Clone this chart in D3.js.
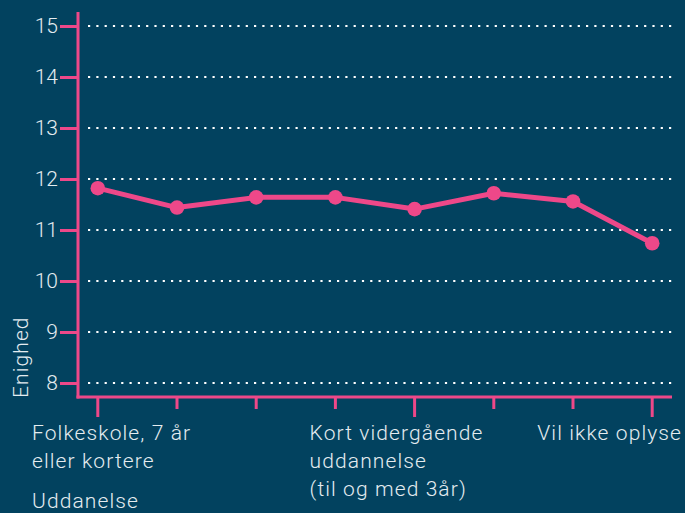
<!DOCTYPE html>
<html>
<head>
<meta charset="utf-8">
<script src="https://cdn.jsdelivr.net/npm/d3@7"></script>
<style>
  html, body { margin: 0; padding: 0; background: #02425F; }
  svg { display: block; }
  text { font-family: Roboto, "Noto Sans", sans-serif; fill: #E4ECF0; }
</style>
</head>
<body>
<script>
// ---- data ----
const categories = [
  "Folkeskole, 7 år eller kortere",
  "Folkeskole, 8-10 år",
  "Gymnasial uddannelse",
  "Erhvervsfaglig uddannelse",
  "Kort vidergående uddannelse (til og med 3år)",
  "Mellemlang videregående uddannelse",
  "Lang videregående uddannelse",
  "Vil ikke oplyse"
];
const values = [11.82, 11.44, 11.64, 11.64, 11.41, 11.72, 11.56, 10.74];
const yTicks = [8, 9, 10, 11, 12, 13, 14, 15];
// categories whose labels are shown (others are hidden), and their wrapped lines
const shownLabels = [
  { index: 0, lines: ["Folkeskole, 7 år", "eller kortere"] },
  { index: 4, lines: ["Kort vidergående", "uddannelse", "(til og med 3år)"] },
  { index: 7, lines: ["Vil ikke oplyse"] }
];
const yTitle = "Enighed";
const xTitle = "Uddanelse";

// ---- layout ----
const W = 685, H = 513;
const pink = "#EE4889";
const plot = { left: 78, right: 672, top: 12, bottom: 397 };
const FS = 21, LS = "1.1px";

const svg = d3.select("body").append("svg").attr("width", W).attr("height", H);
svg.append("rect").attr("width", W).attr("height", H).attr("fill", "#02425F");

const x = d3.scalePoint().domain(d3.range(categories.length))
  .range([plot.left, plot.right]).padding(0.25);
const y = d3.scaleLinear().domain([8, 15]).range([383, 26]);

// gridlines (dotted)
svg.append("g").selectAll("line").data(yTicks).join("line")
  .attr("x1", 88).attr("x2", plot.right)
  .attr("y1", d => y(d)).attr("y2", d => y(d))
  .attr("stroke", "#FFFFFF").attr("stroke-width", 2.2)
  .attr("stroke-dasharray", "2.2,6.1");

// y axis
const yAxis = svg.append("g").attr("transform", `translate(${plot.left},0)`)
  .call(d3.axisLeft(y).tickValues(yTicks).tickSize(18).tickPadding(2).tickFormat(d3.format("d")));
yAxis.select(".domain").remove();
yAxis.selectAll(".tick line").attr("stroke", pink).attr("stroke-width", 3);
yAxis.selectAll(".tick text").attr("font-size", FS).style("fill", "#E4ECF0")
  .attr("font-family", "Roboto, sans-serif").attr("font-weight", 300);
svg.append("line").attr("x1", plot.left).attr("x2", plot.left)
  .attr("y1", plot.top).attr("y2", plot.bottom + 1.5)
  .attr("stroke", pink).attr("stroke-width", 3);

// x axis
svg.append("line").attr("x1", plot.left - 1.5).attr("x2", plot.right)
  .attr("y1", plot.bottom).attr("y2", plot.bottom)
  .attr("stroke", pink).attr("stroke-width", 3);
const labelled = new Set(shownLabels.map(d => d.index));
svg.append("g").selectAll("line").data(d3.range(categories.length)).join("line")
  .attr("x1", d => x(d)).attr("x2", d => x(d))
  .attr("y1", plot.bottom).attr("y2", d => labelled.has(d) ? 417 : 409)
  .attr("stroke", pink).attr("stroke-width", 3);

// x labels
shownLabels.forEach(lab => {
  const g = svg.append("g");
  const t = g.append("text").attr("font-size", FS).attr("font-weight", 300)
    .style("letter-spacing", LS);
  lab.lines.forEach((ln, i) => {
    t.append("tspan").attr("x", 0).attr("y", 440 + i * 28).text(ln);
  });
  const w = t.node().getBBox().width;
  let left = x(lab.index) - 105;
  left = Math.max(32, Math.min(682 - w, left));
  g.attr("transform", `translate(${left},0)`);
});

// axis titles
svg.append("text").attr("x", 32).attr("y", 508).attr("font-size", FS).attr("font-weight", 300)
  .style("letter-spacing", LS).text(xTitle);
svg.append("text").attr("transform", "translate(28,398) rotate(-90)")
  .attr("font-size", FS).attr("font-weight", 300).style("letter-spacing", LS).text(yTitle);

// line + points
svg.append("path").datum(values)
  .attr("d", d3.line().x((d, i) => x(i)).y(d => y(d)))
  .attr("fill", "none").attr("stroke", pink).attr("stroke-width", 5)
  .attr("stroke-linejoin", "round");
svg.append("g").selectAll("circle").data(values).join("circle")
  .attr("cx", (d, i) => x(i)).attr("cy", d => y(d)).attr("r", 7.3)
  .attr("fill", pink);
</script>
</body>
</html>
